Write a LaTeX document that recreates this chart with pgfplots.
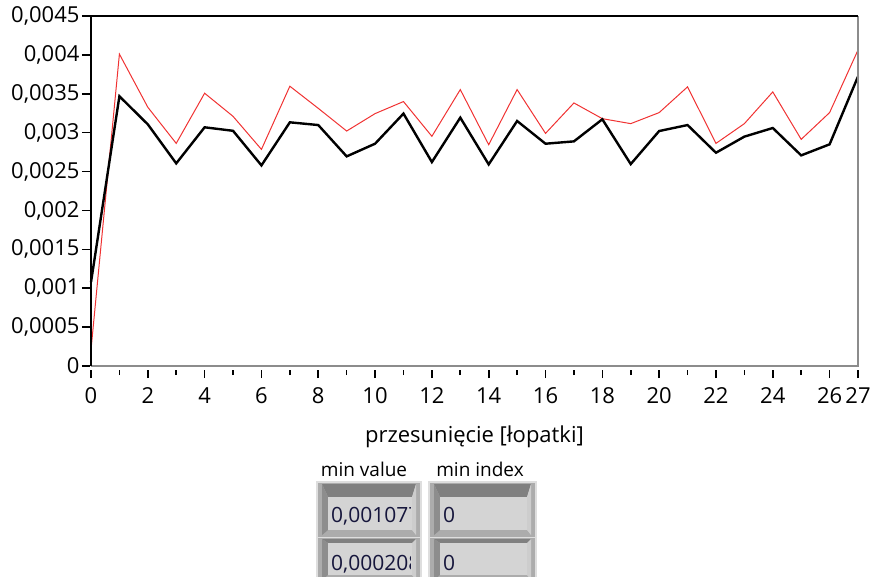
\documentclass[border=0pt]{standalone}
\usepackage{fontspec}
\setmainfont{Open Sans}
\usepackage{pgfplots}
\pgfplotsset{compat=1.18}

\definecolor{curvered}{RGB}{240,50,50}
\definecolor{framegray}{RGB}{140,140,140}
\definecolor{panel}{RGB}{172,172,172}
\definecolor{panellight}{RGB}{222,222,222}
\definecolor{paneldark}{RGB}{128,128,128}
\definecolor{fieldbg}{RGB}{212,212,212}
\definecolor{fieldtext}{RGB}{22,22,60}

\begin{document}
\begin{tikzpicture}
\useasboundingbox (0,0) rectangle (870pt,576pt);

\begin{axis}[
  at={(91pt,210pt)}, anchor=south west,
  scale only axis, width=767pt, height=350pt,
  xmin=0, xmax=27, ymin=0, ymax=0.0045,
  axis line style={draw=none},
  clip=false,
  xtick={0,2,...,26,27},
  minor xtick={1,3,...,25},
  ytick={0,0.0005,0.001,0.0015,0.002,0.0025,0.003,0.0035,0.004,0.0045},
  yticklabels={0,{0,0005},{0,001},{0,0015},{0,002},{0,0025},{0,003},{0,0035},{0,004},{0,0045}},
  scaled y ticks=false,
  /pgf/number format/assume math mode=true,
  tick align=outside,
  xtick pos=bottom, ytick pos=left,
  major tick length=8pt, minor tick length=5pt,
  every tick/.style={black, line width=1.6pt},
  every x tick/.append style={yshift=-4pt},
  every y tick/.append style={xshift=-1pt},
  tick label style={font=\fontsize{22}{26}\selectfont},
  xticklabel style={yshift=-10pt},
  xlabel={przesunięcie [łopatki]},
  xlabel style={font=\fontsize{22}{26}\selectfont, yshift=-15pt},
]
\addplot[curvered, line width=1pt] coordinates {
  (0,0.000208) (1,0.004010) (2,0.003327) (3,0.002862) (4,0.003507)
  (5,0.003210) (6,0.002785) (7,0.003597) (8,0.003313) (9,0.003021)
  (10,0.003245) (11,0.003400) (12,0.002953) (13,0.003554) (14,0.002845)
  (15,0.003554) (16,0.002991) (17,0.003382) (18,0.003180) (19,0.003116)
  (20,0.003258) (21,0.003589) (22,0.002862) (23,0.003116) (24,0.003524)
  (25,0.002914) (26,0.003258) (27,0.004062)
};
\addplot[black, line width=2.4pt] coordinates {
  (0,0.001077) (1,0.003468) (2,0.003107) (3,0.002605) (4,0.003069)
  (5,0.003024) (6,0.002579) (7,0.003133) (8,0.003098) (9,0.002695)
  (10,0.002858) (11,0.003245) (12,0.002622) (13,0.003193) (14,0.002592)
  (15,0.003150) (16,0.002858) (17,0.002888) (18,0.003172) (19,0.002596)
  (20,0.003021) (21,0.003098) (22,0.002742) (23,0.002949) (24,0.003060)
  (25,0.002708) (26,0.002850) (27,0.003722)
};
% plot frame: dark top/left, grey bottom/right
\draw[framegray, line width=1.2pt] (rel axis cs:0,0) -- (rel axis cs:1,0) -- (rel axis cs:1,1);
\draw[black, line width=2.2pt] (rel axis cs:0,0) -- (rel axis cs:0,1) -- (rel axis cs:1,1);
\end{axis}

% indicator captions
\node[font=\fontsize{19}{22}\selectfont, anchor=base] at (364pt,100pt) {min value};
\node[font=\fontsize{19}{22}\selectfont, anchor=base] at (480pt,100pt) {min index};

% one indicator cell: left, right, panel top, field top, field bottom, baseline, text
\newcommand{\cell}[7]{%
  \fill[paneldark] (#1pt+4pt,#3pt-1pt) -- (#2pt-4pt,#3pt-1pt) -- (#2pt-8pt,#4pt) -- (#1pt+10pt,#4pt) -- cycle;
  \fill[paneldark!70!panel] (#1pt+4pt,#3pt-1pt) -- (#1pt+10pt,#4pt) -- (#1pt+10pt,#5pt) -- (#1pt+4pt,#5pt-5pt) -- cycle;
  \fill[panel!60!white] (#2pt-4pt,#3pt-1pt) -- (#2pt-4pt,#5pt-5pt) -- (#2pt-8pt,#5pt) -- (#2pt-8pt,#4pt) -- cycle;
  \fill[fieldbg] (#1pt+10pt,#5pt) rectangle (#2pt-8pt,#4pt);
  \begin{scope}
    \clip (#1pt+10pt,#5pt) rectangle (#2pt-10pt,#4pt);
    \node[font=\fontsize{21}{24}\selectfont, text=fieldtext, anchor=base west, inner sep=0pt]
      at (#1pt+13pt,#6pt) {#7};
  \end{scope}
}
\begin{scope}
\clip (0,0) rectangle (870pt,576pt);
% min value column
\fill[panellight] (316pt,-20pt) rectangle (422pt,95pt);
\fill[panel] (318pt,-20pt) rectangle (420pt,93pt);
\draw[panellight, line width=1pt] (318pt,39pt) -- (420pt,39pt);
\cell{318}{420}{93}{79}{46}{54}{0,001077}
\cell{318}{420}{38}{33}{1}{6}{0,000208}
% min index column
\fill[panellight] (428pt,-20pt) rectangle (537pt,95pt);
\fill[panel] (430pt,-20pt) rectangle (535pt,93pt);
\draw[panellight, line width=1pt] (430pt,39pt) -- (535pt,39pt);
\cell{430}{535}{93}{79}{46}{54}{0}
\cell{430}{535}{38}{33}{1}{6}{0}
\end{scope}
\end{tikzpicture}
\end{document}
